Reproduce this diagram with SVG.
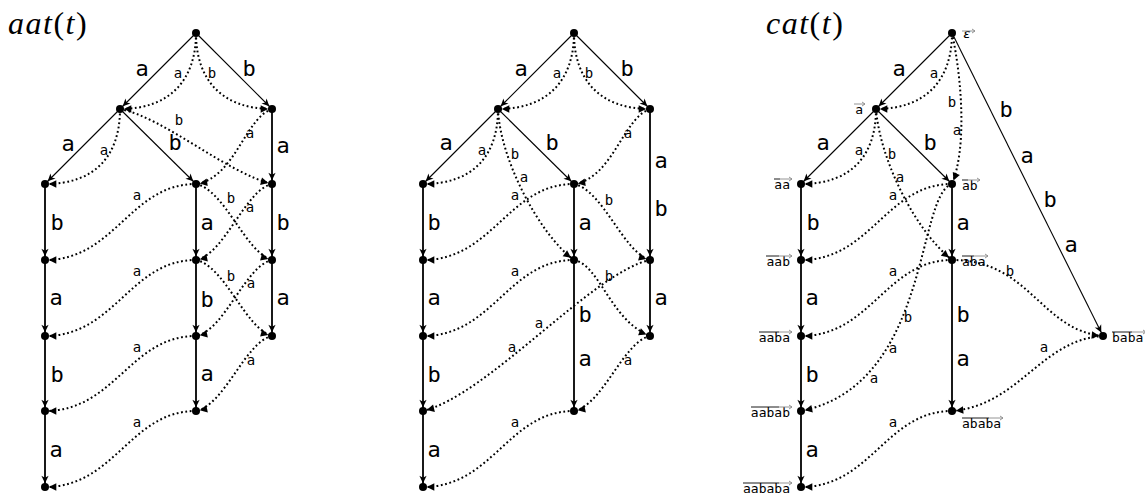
<svg xmlns="http://www.w3.org/2000/svg" width="1145" height="495" viewBox="0 0 1145 495">
<style>
.t{font-family:"Liberation Serif",serif;font-size:32px;font-style:italic;letter-spacing:1.5px}
.u{font-style:normal}
.e{stroke:#000;stroke-width:1.1;fill:none;marker-end:url(#sa)}
.v{stroke:#000;stroke-width:1.8;fill:none;marker-end:url(#sa)}
.d{stroke:#000;stroke-width:2;stroke-dasharray:1.8 2.6;fill:none;marker-end:url(#da)}
.L{font-family:"DejaVu Sans Mono",monospace;font-size:22px;text-anchor:middle}
.s{font-family:"DejaVu Sans Mono",monospace;font-size:14px;text-anchor:middle}
.n{font-family:"DejaVu Sans Mono",monospace;font-size:13px}
.ob{stroke:#000;stroke-width:0.9;fill:none}
.og{stroke:#888;stroke-width:0.9;fill:none}
circle{fill:#000}
</style>
<defs>
<marker id="sa" markerUnits="userSpaceOnUse" viewBox="-14 -6 16 12" refX="0" refY="0" markerWidth="16" markerHeight="12" orient="auto" overflow="visible"><path d="M-3.8,0 L-11.3,-3.6 L-9.3,0 L-11.3,3.6 Z" fill="#000"/></marker>
<marker id="da" markerUnits="userSpaceOnUse" viewBox="-14 -6 16 12" refX="0" refY="0" markerWidth="16" markerHeight="12" orient="auto" overflow="visible"><path d="M-3.8,0 L-11.3,-3.8 L-11.3,3.8 Z" fill="#000"/></marker>
</defs>

<text class="t" x="8" y="34">aat<tspan class="u">(</tspan>t<tspan class="u">)</tspan></text>
<text class="t" x="766" y="34">cat<tspan class="u">(</tspan>t<tspan class="u">)</tspan></text>

<!-- Diagram 1 -->
<g id="diagram1">
<g id="d1-connectors">
<line class="e" x1="196" y1="33" x2="120" y2="109"/>
<line class="e" x1="196" y1="33" x2="272" y2="109"/>
<line class="e" x1="120" y1="109" x2="45" y2="184"/>
<line class="e" x1="120" y1="109" x2="196" y2="184"/>
<line class="v" x1="272" y1="109" x2="272" y2="184"/>
<line class="v" x1="45" y1="184" x2="45" y2="260"/>
<line class="v" x1="45" y1="260" x2="45" y2="336"/>
<line class="v" x1="45" y1="336" x2="45" y2="411"/>
<line class="v" x1="45" y1="411" x2="45" y2="487"/>
<line class="v" x1="196" y1="184" x2="196" y2="260"/>
<line class="v" x1="196" y1="260" x2="196" y2="336"/>
<line class="v" x1="196" y1="336" x2="196" y2="411"/>
<line class="v" x1="272" y1="184" x2="272" y2="260"/>
<line class="v" x1="272" y1="260" x2="272" y2="336"/>
<path class="d" d="M196,33 C196,80 170,109 120,109"/>
<path class="d" d="M196,33 C196,80 222,109 272,109"/>
<path class="d" d="M120,109 C120,156 95,184 45,184"/>
<path class="d" d="M120,109 C165,118 225,172 272,184"/>
<path class="d" d="M272,109 C245,118 235,178 196,184"/>
<path class="d" d="M196,184 C130,184 115,260 45,260"/>
<path class="d" d="M196,184 C225,190 245,252 272,260"/>
<path class="d" d="M272,184 C245,190 225,254 196,260"/>
<path class="d" d="M196,260 C130,260 115,336 45,336"/>
<path class="d" d="M196,260 C225,266 245,328 272,336"/>
<path class="d" d="M272,260 C245,266 225,330 196,336"/>
<path class="d" d="M196,336 C130,336 115,411 45,411"/>
<path class="d" d="M272,336 C245,342 225,405 196,411"/>
<path class="d" d="M196,411 C130,411 115,487 45,487"/>
<text class="L" x="142" y="76">a</text>
<text class="L" x="249" y="76">b</text>
<text class="L" x="68" y="151">a</text>
<text class="L" x="175" y="150">b</text>
<text class="L" x="283" y="153">a</text>
<text class="L" x="57" y="230">b</text>
<text class="L" x="207" y="230">a</text>
<text class="L" x="283" y="230">b</text>
<text class="L" x="56" y="305">a</text>
<text class="L" x="207" y="307">b</text>
<text class="L" x="283" y="305">a</text>
<text class="L" x="57" y="382">b</text>
<text class="L" x="207" y="381">a</text>
<text class="L" x="56" y="457">a</text>
<text class="s" x="178" y="78">a</text>
<text class="s" x="212" y="78">b</text>
<text class="s" x="179" y="125">b</text>
<text class="s" x="250" y="138">a</text>
<text class="s" x="104" y="155">a</text>
<text class="s" x="137" y="200">a</text>
<text class="s" x="231" y="203">b</text>
<text class="s" x="250" y="212">a</text>
<text class="s" x="137" y="276">a</text>
<text class="s" x="231" y="281">b</text>
<text class="s" x="251" y="288">a</text>
<text class="s" x="137" y="352">a</text>
<text class="s" x="251" y="365">a</text>
<text class="s" x="137" y="427">a</text>
</g>
<g id="d1-root"><circle cx="196" cy="33" r="4"/></g>
<g id="d1-a"><circle cx="120" cy="109" r="4"/></g>
<g id="d1-b"><circle cx="272" cy="109" r="4"/></g>
<g id="d1-aa"><circle cx="45" cy="184" r="4"/></g>
<g id="d1-ab"><circle cx="196" cy="184" r="4"/></g>
<g id="d1-ba"><circle cx="272" cy="184" r="4"/></g>
<g id="d1-aab"><circle cx="45" cy="260" r="4"/></g>
<g id="d1-aba"><circle cx="196" cy="260" r="4"/></g>
<g id="d1-bab"><circle cx="272" cy="260" r="4"/></g>
<g id="d1-aaba"><circle cx="45" cy="336" r="4"/></g>
<g id="d1-abab"><circle cx="196" cy="336" r="4"/></g>
<g id="d1-baba"><circle cx="272" cy="336" r="4"/></g>
<g id="d1-aabab"><circle cx="45" cy="411" r="4"/></g>
<g id="d1-ababa"><circle cx="196" cy="411" r="4"/></g>
<g id="d1-aababa"><circle cx="45" cy="487" r="4"/></g>
</g>

<!-- Diagram 2 -->
<g id="diagram2" transform="translate(378,0)">
<g id="d2-connectors">
<line class="e" x1="196" y1="33" x2="120" y2="109"/>
<line class="e" x1="196" y1="33" x2="272" y2="109"/>
<line class="e" x1="120" y1="109" x2="45" y2="184"/>
<line class="e" x1="120" y1="109" x2="196" y2="184"/>
<line class="v" x1="272" y1="109" x2="272" y2="260"/>
<line class="v" x1="272" y1="260" x2="272" y2="336"/>
<line class="v" x1="45" y1="184" x2="45" y2="260"/>
<line class="v" x1="45" y1="260" x2="45" y2="336"/>
<line class="v" x1="45" y1="336" x2="45" y2="411"/>
<line class="v" x1="45" y1="411" x2="45" y2="487"/>
<line class="v" x1="196" y1="184" x2="196" y2="260"/>
<line class="v" x1="196" y1="260" x2="196" y2="411"/>
<path class="d" d="M196,33 C196,80 170,109 120,109"/>
<path class="d" d="M196,33 C196,80 222,109 272,109"/>
<path class="d" d="M120,109 C120,156 95,184 45,184"/>
<path class="d" d="M272,109 C245,118 235,178 196,184"/>
<path class="d" d="M120,109 C122,160 162,235 196,260"/>
<path class="d" d="M196,184 C130,184 115,260 45,260"/>
<path class="d" d="M196,184 C225,190 245,252 272,260"/>
<path class="d" d="M196,260 C130,260 115,336 45,336"/>
<path class="d" d="M196,260 C222,265 232,320 272,336"/>
<path class="d" d="M272,260 C215,272 110,395 45,411"/>
<path class="d" d="M272,336 C245,342 225,405 196,411"/>
<path class="d" d="M196,411 C130,411 115,487 45,487"/>
<text class="L" x="143" y="76">a</text>
<text class="L" x="249" y="76">b</text>
<text class="L" x="68" y="150">a</text>
<text class="L" x="174" y="150">b</text>
<text class="L" x="283" y="168">a</text>
<text class="L" x="283" y="216">b</text>
<text class="L" x="207" y="230">a</text>
<text class="L" x="56" y="230">b</text>
<text class="L" x="56" y="305">a</text>
<text class="L" x="283" y="305">a</text>
<text class="L" x="207" y="322">b</text>
<text class="L" x="207" y="366">a</text>
<text class="L" x="56" y="382">b</text>
<text class="L" x="56" y="457">a</text>
<text class="s" x="179" y="78">a</text>
<text class="s" x="211" y="78">b</text>
<text class="s" x="104" y="155">a</text>
<text class="s" x="250" y="138">a</text>
<text class="s" x="137" y="159">b</text>
<text class="s" x="146" y="182">a</text>
<text class="s" x="137" y="200">a</text>
<text class="s" x="231" y="205">b</text>
<text class="s" x="137" y="276">a</text>
<text class="s" x="231" y="281">b</text>
<text class="s" x="161" y="328">a</text>
<text class="s" x="134" y="352">a</text>
<text class="s" x="250" y="365">a</text>
<text class="s" x="137" y="427">a</text>
</g>
<g id="d2-root"><circle cx="196" cy="33" r="4"/></g>
<g id="d2-a"><circle cx="120" cy="109" r="4"/></g>
<g id="d2-b"><circle cx="272" cy="109" r="4"/></g>
<g id="d2-aa"><circle cx="45" cy="184" r="4"/></g>
<g id="d2-ab"><circle cx="196" cy="184" r="4"/></g>
<g id="d2-aab"><circle cx="45" cy="260" r="4"/></g>
<g id="d2-aba"><circle cx="196" cy="260" r="4"/></g>
<g id="d2-bab"><circle cx="272" cy="260" r="4"/></g>
<g id="d2-aaba"><circle cx="45" cy="336" r="4"/></g>
<g id="d2-baba"><circle cx="272" cy="336" r="4"/></g>
<g id="d2-aabab"><circle cx="45" cy="411" r="4"/></g>
<g id="d2-ababa"><circle cx="196" cy="411" r="4"/></g>
<g id="d2-aababa"><circle cx="45" cy="487" r="4"/></g>
</g>

<!-- Diagram 3 -->
<g id="diagram3" transform="translate(756,0)">
<g id="d3-connectors">
<line class="e" x1="196" y1="33" x2="120" y2="109"/>
<line class="e" x1="196" y1="33" x2="347" y2="336"/>
<line class="e" x1="120" y1="109" x2="45" y2="184"/>
<line class="e" x1="120" y1="109" x2="196" y2="184"/>
<line class="v" x1="45" y1="184" x2="45" y2="260"/>
<line class="v" x1="45" y1="260" x2="45" y2="336"/>
<line class="v" x1="45" y1="336" x2="45" y2="411"/>
<line class="v" x1="45" y1="411" x2="45" y2="487"/>
<line class="v" x1="196" y1="184" x2="196" y2="260"/>
<line class="v" x1="196" y1="260" x2="196" y2="411"/>
<path class="d" d="M196,33 C196,80 170,109 120,109"/>
<path class="d" d="M196,33 C207,85 210,150 196,184"/>
<path class="d" d="M120,109 C120,156 95,184 45,184"/>
<path class="d" d="M120,109 C124,160 159,230 196,260"/>
<path class="d" d="M196,184 C130,184 115,260 45,260"/>
<path class="d" d="M196,184 C160,195 175,385 45,411"/>
<path class="d" d="M196,260 C130,260 115,336 45,336"/>
<path class="d" d="M196,260 C274,260 284,330 347,336"/>
<path class="d" d="M347,336 C284,340 264,405 196,411"/>
<path class="d" d="M196,411 C130,411 115,487 45,487"/>
<text class="L" x="143" y="76">a</text>
<text class="L" x="250" y="117">b</text>
<text class="L" x="271" y="163">a</text>
<text class="L" x="294" y="207">b</text>
<text class="L" x="315" y="252">a</text>
<text class="L" x="67" y="150">a</text>
<text class="L" x="174" y="150">b</text>
<text class="L" x="57" y="230">b</text>
<text class="L" x="207" y="230">a</text>
<text class="L" x="56" y="305">a</text>
<text class="L" x="207" y="322">b</text>
<text class="L" x="207" y="366">a</text>
<text class="L" x="56" y="382">b</text>
<text class="L" x="56" y="457">a</text>
<text class="s" x="178" y="78">a</text>
<text class="s" x="196" y="107">b</text>
<text class="s" x="201" y="135">a</text>
<text class="s" x="103" y="155">a</text>
<text class="s" x="136" y="159">b</text>
<text class="s" x="144" y="182">a</text>
<text class="s" x="137" y="200">a</text>
<text class="s" x="137" y="276">a</text>
<text class="s" x="254" y="276">b</text>
<text class="s" x="152" y="322">b</text>
<text class="s" x="137" y="353">a</text>
<text class="s" x="118" y="383">a</text>
<text class="s" x="288" y="352">a</text>
<text class="s" x="137" y="427">a</text>
</g>
<g id="d3-root"><circle cx="196" cy="33" r="4"/>
<text class="n" x="207" y="38" font-size="11" font-style="italic">ε</text>
<path class="og" d="M206,31 H219 M216,29 L219,31 L216,33"/></g>
<g id="d3-a"><circle cx="120" cy="109" r="4"/>
<text class="n" x="107" y="114" text-anchor="end">a</text>
<path class="og" d="M98,104 H109 M106,102 L109,104 L106,106"/></g>
<g id="d3-aa"><circle cx="45" cy="184" r="4"/>
<text class="n" x="34" y="189" text-anchor="end">aa</text>
<path class="ob" d="M18,179 H24"/><path class="og" d="M24,179 H36 M33,177 L36,179 L33,181"/></g>
<g id="d3-ab"><circle cx="196" cy="184" r="4"/>
<text class="n" x="206" y="190">ab</text>
<path class="ob" d="M206,180 H212"/><path class="og" d="M212,180 H224 M221,178 L224,180 L221,182"/></g>
<g id="d3-aab"><circle cx="45" cy="260" r="4"/>
<text class="n" x="34" y="266" text-anchor="end">aab</text>
<path class="ob" d="M10,256 H23"/><path class="og" d="M23,256 H36 M33,254 L36,256 L33,258"/></g>
<g id="d3-aba"><circle cx="196" cy="260" r="4"/>
<text class="n" x="206" y="266">aba</text>
<path class="ob" d="M206,256 H218"/><path class="og" d="M218,256 H232 M229,254 L232,256 L229,258"/></g>
<g id="d3-aaba"><circle cx="45" cy="336" r="4"/>
<text class="n" x="34" y="342" text-anchor="end">aaba</text>
<path class="ob" d="M3,332 H23"/><path class="og" d="M23,332 H36 M33,330 L36,332 L33,334"/></g>
<g id="d3-baba"><circle cx="347" cy="336" r="4"/>
<text class="n" x="356" y="342">baba</text>
<path class="ob" d="M356,332 H376"/><path class="og" d="M376,332 H390 M387,330 L390,332 L387,334"/></g>
<g id="d3-aabab"><circle cx="45" cy="411" r="4"/>
<text class="n" x="34" y="417" text-anchor="end">aabab</text>
<path class="ob" d="M-5,407 H23"/><path class="og" d="M23,407 H36 M33,405 L36,407 L33,409"/></g>
<g id="d3-ababa"><circle cx="196" cy="411" r="4"/>
<text class="n" x="206" y="428">ababa</text>
<path class="ob" d="M206,418 H233"/><path class="og" d="M233,418 H247 M244,416 L247,418 L244,420"/></g>
<g id="d3-aababa"><circle cx="45" cy="487" r="4"/>
<text class="n" x="34" y="493" text-anchor="end">aababa</text>
<path class="ob" d="M-13,483 H23"/><path class="og" d="M23,483 H36 M33,481 L36,483 L33,485"/></g>
</g>
</svg>
